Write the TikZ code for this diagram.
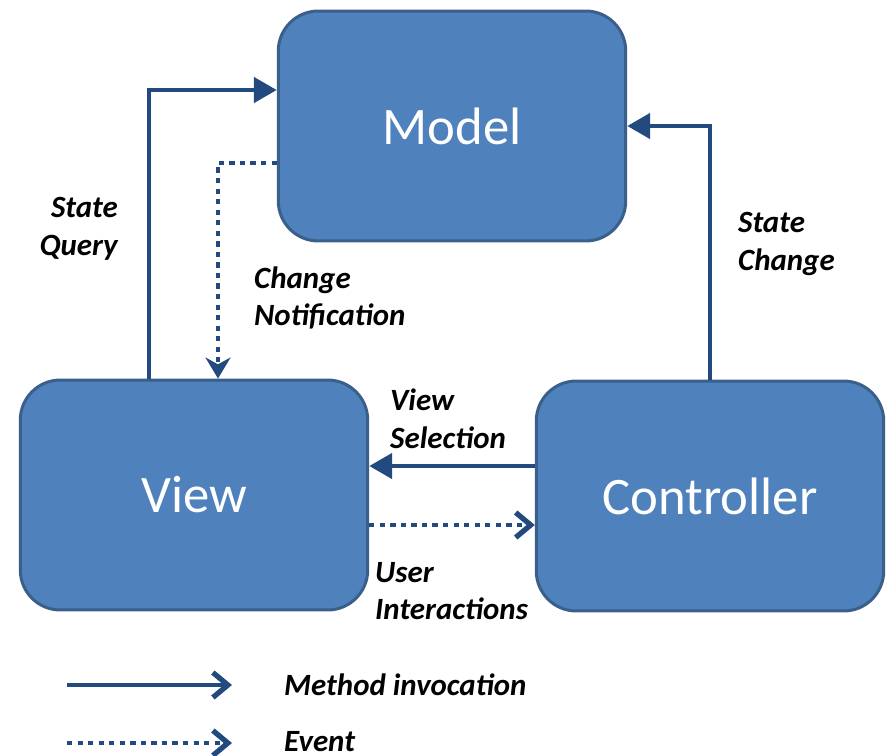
\documentclass[tikz,border=0pt]{standalone}
\usepackage{fontspec}
\setmainfont{Carlito}
\usetikzlibrary{arrows.meta}
\definecolor{boxfill}{HTML}{4F81BD}
\definecolor{boxline}{HTML}{3A5F8B}
\definecolor{arrowblue}{HTML}{224A7E}
\tikzset{part/.style = {
    rounded corners = 0.8cm,
    fill = boxfill,
    draw = boxline,
    line width = 1.7pt,
    text = white,
    minimum width = 6.95cm,
    minimum height = 4.6cm,
    font = \fontsize{30}{36}\selectfont
}}
\tikzset{lbl/.style = {
    align = left,
    font = \fontsize{17.6}{21.5}\selectfont\bfseries\itshape
}}
\tikzset{call/.style = {
    arrowblue,
    line width = 2.7pt,
    -{Triangle[length = 0.46cm, width = 0.5cm]}
}}
\tikzset{event/.style = {
    arrowblue,
    line width = 2.7pt,
    dash pattern = on 3pt off 3pt,
    -{Stealth[length = 0.42cm, width = 0.5cm]}
}}
\tikzset{barb/.style = {
    -{Straight Barb[length = 0.3cm, width = 0.5cm, line width = 3pt]}
}}

\begin{document}
\begin{tikzpicture}[x = 0.02cm, y = -0.02cm]
    \useasboundingbox 
        (0, 0) rectangle (889, 755)
    ;

    % Boxes
    \node [part] (model) at (452, 126) {Model};
    \node [part] (view) at (194, 495) {View};
    \node [part] (ctrl) at (710, 496) {Controller};

    % Connectors
    \coordinate (sel) at ([yshift = 0.6cm]ctrl.west);
    \coordinate (usr) at ([yshift = -0.6cm]view.east);
    \draw 
        [call] ([xshift = -0.9cm]view.north) |- ([yshift = 0.72cm]model.west)
    ;
    \draw
        [event] ([yshift = -0.74cm]model.west) -| ([xshift = 0.48cm]view.north)
    ;
    \draw
        [call] (ctrl.north) |- (model.east)
    ;
    \draw
        [call] (sel) -- (view.east |- sel)
    ;
    \draw
        [event, barb] (usr) -- (ctrl.west |- usr)
    ;

    % Labels
    \node [lbl, align = right, anchor = east] (query) at (124, 229) {State\\Query};
    \node [lbl, anchor = west] (notify) at (248, 298) {Change\\Notification};
    \node [lbl, anchor = west] (change) at (732, 244) {State\\Change};
    \node [lbl, anchor = west] (select) at (384, 419) {View\\Selection};
    \node [lbl, anchor = west] (inter) at (369, 591) {User\\Interactions};

    % Legend
    \coordinate (m1) at (67, 685);
    \coordinate (m2) at (232, 685);
    \coordinate (e1) at (67, 743);
    \coordinate (e2) at (232, 743);
    \draw
        [call, barb] (m1) -- (m2)
    ;
    \draw
        [event, barb] (e1) -- (e2)
    ;
    \node [lbl, anchor = west] (method) at (278, 685) {Method invocation};
    \node [lbl, anchor = west] (evt) at (278, 742) {Event};

\end{tikzpicture}
\end{document}
